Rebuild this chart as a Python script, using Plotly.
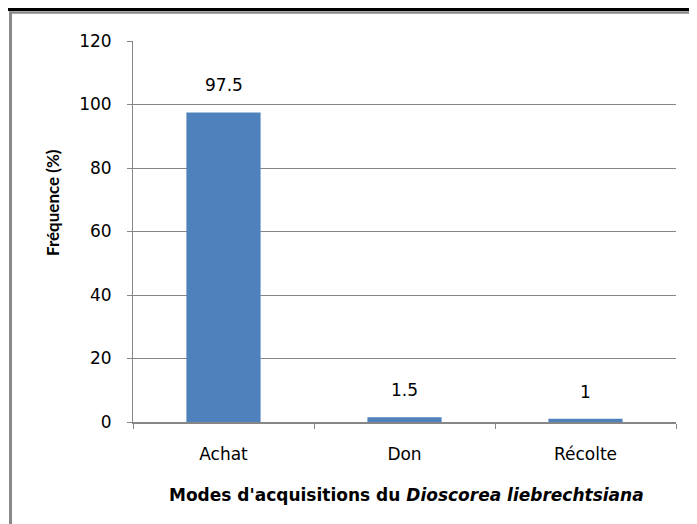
import plotly.graph_objects as go

categories = ["Achat", "Don", "Récolte"]
values = [97.5, 1.5, 1]
value_labels = ["97.5", "1.5", "1"]
y_ticks = [0, 20, 40, 60, 80, 100, 120]

# page body has an 8px margin; work in screen pixels and convert
OFF = 8
W, H = 697, 524
L, R, T, B = 133 - OFF, 676 - OFF, 41 - OFF, 422 - OFF

def px(x):
    return (x - OFF - L) / (R - L)

def py(y):
    return (B - (y - OFF)) / (B - T)

FONT = "DejaVu Sans"
TFONT = "Lato"
GRAY = "#868686"

fig = go.Figure()
fig.add_trace(go.Bar(
    x=categories, y=values,
    marker=dict(color="#4F81BD", line=dict(width=0)),
    width=0.41,
    hoverinfo="skip",
))

annotations = []
for c, v, t in zip(categories, values, value_labels):
    annotations.append(dict(
        x=c, y=v, xref="x", yref="y", text=t, showarrow=False,
        yanchor="middle", yshift=27,
        font=dict(family=FONT, size=17, color="#000000"),
    ))

annotations.append(dict(
    x=px(52), y=py(203), xref="paper", yref="paper",
    text="<b>Fréquence (%)</b>", textangle=-90, showarrow=False,
    xanchor="center", yanchor="middle",
    font=dict(family=TFONT, size=17, color="#000000"),
))
annotations.append(dict(
    x=px(406), y=py(495), xref="paper", yref="paper",
    text="<b>Modes d'acquisitions du <i>Dioscorea liebrechtsiana</i></b>",
    showarrow=False, xanchor="center", yanchor="middle",
    font=dict(family=FONT, size=17, color="#000000"),
))

shapes = [
    # top black rule
    dict(type="line", xref="paper", yref="paper", x0=px(0), x1=px(720),
         y0=py(OFF + 1.5), y1=py(OFF + 1.5), line=dict(color="#000000", width=3)),
    # gray frame top
    dict(type="line", xref="paper", yref="paper", x0=px(9), x1=px(720),
         y0=py(OFF + 4.5), y1=py(OFF + 4.5), line=dict(color="#898989", width=2.5)),
    # gray frame left
    dict(type="line", xref="paper", yref="paper", x0=px(OFF + 2.5), x1=px(OFF + 2.5),
         y0=py(OFF + 3.5), y1=py(560), line=dict(color="#898989", width=3)),
]

fig.update_layout(
    width=W, height=H,
    margin=dict(l=L, r=W - R, t=T, b=H - B),
    plot_bgcolor="white", paper_bgcolor="white",
    showlegend=False,
    annotations=annotations,
    shapes=shapes,
    bargap=0.59,
)

fig.update_yaxes(
    range=[0, 120], tickvals=y_ticks, ticktext=[str(v) for v in y_ticks],
    showgrid=True, gridcolor=GRAY, gridwidth=1,
    showline=True, linecolor=GRAY, linewidth=1,
    ticks="outside", ticklen=5, tickcolor=GRAY, tickwidth=1,
    ticklabelstandoff=12,
    tickfont=dict(family=FONT, size=17, color="#000000"),
    zeroline=False, fixedrange=True,
)
fig.update_xaxes(
    showgrid=False,
    showline=True, linecolor=GRAY, linewidth=1.5,
    ticks="outside", ticklen=5, tickcolor=GRAY, tickwidth=1,
    tickson="boundaries",
    ticklabelstandoff=16,
    tickfont=dict(family=FONT, size=17, color="#000000"),
    fixedrange=True,
)

fig.write_html("out.html")
